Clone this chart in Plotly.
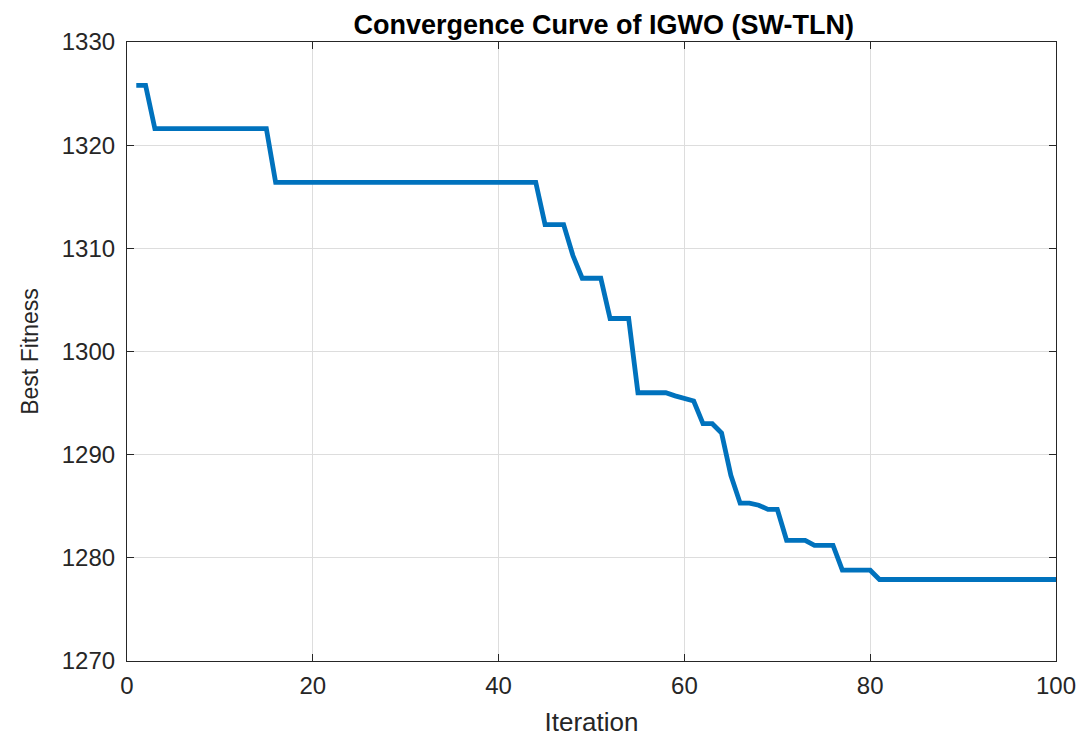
import plotly.graph_objects as go

iterations = list(range(1, 101))
best_fitness = (
    [1325.8, 1325.8]
    + [1321.6] * 13
    + [1316.4] * 29
    + [1312.3] * 3
    + [1309.3]
    + [1307.1] * 3
    + [1303.2] * 3
    + [1296.0] * 4
    + [1295.7, 1295.5, 1295.2, 1293.0, 1293.0, 1292.1, 1288.0, 1285.3, 1285.3, 1285.1,
       1284.7, 1284.7, 1281.7, 1281.7, 1281.7, 1281.2, 1281.2, 1281.2, 1278.8, 1278.8,
       1278.8, 1278.8]
    + [1277.9] * 20
)
x_ticks = [0, 20, 40, 60, 80, 100]
y_ticks = [1270, 1280, 1290, 1300, 1310, 1320, 1330]

FONT = "Liberation Sans, Arial"

fig = go.Figure()
fig.add_trace(go.Scatter(x=iterations, y=best_fitness, mode="lines",
                         line=dict(color="#0072BD", width=4.8), showlegend=False))

axis_common = dict(
    showline=True, linecolor="#262626", linewidth=1.2, mirror="ticks",
    ticks="inside", ticklen=7, tickcolor="#262626",
    showgrid=True, gridcolor="#DDDDDD", gridwidth=1, zeroline=False,
    tickfont=dict(family=FONT, size=24, color="#262626"),
)

fig.update_layout(
    width=1091, height=740,
    paper_bgcolor="white", plot_bgcolor="white",
    margin=dict(l=119, r=43, t=34, b=87),
    title=dict(text="<b>Convergence Curve of IGWO (SW-TLN)</b>", x=0.546, xanchor="center",
               y=0.978, yanchor="middle",
               font=dict(family=FONT, size=27, color="black")),
    xaxis=dict(range=[0, 100], tickvals=x_ticks, ticklabelstandoff=3,
               title=dict(text="Iteration", standoff=14,
                          font=dict(family=FONT, size=26, color="#262626")),
               **axis_common),
    yaxis=dict(range=[1270, 1330], tickvals=y_ticks, ticklabelstandoff=6,
               title=dict(text="Best Fitness", standoff=16,
                          font=dict(family=FONT, size=23, color="#262626")),
               **axis_common),
)

fig.write_html("out.html")
